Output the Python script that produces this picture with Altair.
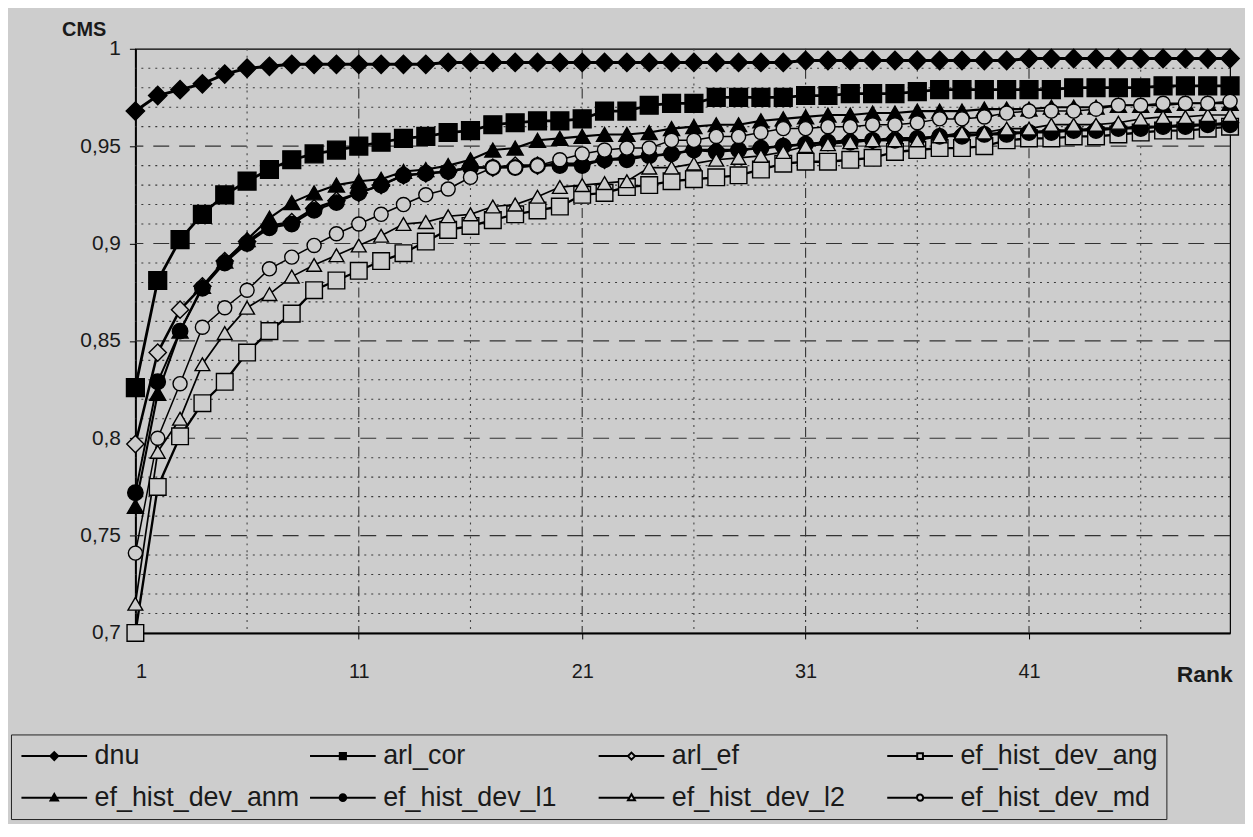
import altair as alt
import pandas as pd

BG = "#cdcdcd"
INK = "#1a1a1a"
FONT = "Liberation Sans"

ranks = list(range(1, 51))

dnu = [0.968, 0.976, 0.979, 0.982, 0.987, 0.990, 0.991, 0.992, 0.992, 0.992,
       0.992, 0.992, 0.992, 0.992, 0.993, 0.993, 0.993, 0.993, 0.993, 0.993,
       0.993, 0.993, 0.993, 0.993, 0.993, 0.993, 0.993, 0.993, 0.993, 0.993,
       0.994, 0.994, 0.994, 0.994, 0.994, 0.994, 0.994, 0.994, 0.994, 0.994,
       0.995, 0.995, 0.995, 0.995, 0.995, 0.995, 0.995, 0.995, 0.995, 0.995]

arl_cor = [0.826, 0.881, 0.902, 0.915, 0.925, 0.932, 0.938, 0.943, 0.946, 0.948,
           0.950, 0.952, 0.954, 0.955, 0.957, 0.958, 0.961, 0.962, 0.963, 0.963,
           0.964, 0.968, 0.968, 0.971, 0.972, 0.972, 0.975, 0.975, 0.975, 0.975,
           0.976, 0.976, 0.977, 0.977, 0.977, 0.978, 0.979, 0.979, 0.979, 0.979,
           0.979, 0.979, 0.980, 0.980, 0.980, 0.980, 0.981, 0.981, 0.981, 0.981]

arl_ef = [0.797, 0.844, 0.866, 0.878, 0.891, 0.901, 0.909, 0.911, 0.918, 0.922,
          0.926, 0.930, 0.935, 0.936, 0.937, 0.939, 0.939, 0.940, 0.940, 0.941,
          0.941, 0.943, 0.944, 0.945, 0.946, 0.948, 0.948, 0.948, 0.949, 0.950,
          0.951, 0.952, 0.953, 0.953, 0.954, 0.954, 0.955, 0.956, 0.956, 0.957,
          0.957, 0.958, 0.958, 0.959, 0.959, 0.960, 0.960, 0.961, 0.961, 0.962]

ef_hist_dev_ang = [0.700, 0.775, 0.801, 0.818, 0.829, 0.844, 0.855, 0.864, 0.876, 0.881,
                   0.886, 0.891, 0.895, 0.901, 0.907, 0.909, 0.912, 0.915, 0.917, 0.919,
                   0.925, 0.926, 0.929, 0.930, 0.932, 0.933, 0.934, 0.935, 0.938, 0.941,
                   0.942, 0.942, 0.943, 0.944, 0.947, 0.948, 0.949, 0.949, 0.950, 0.953,
                   0.954, 0.954, 0.955, 0.955, 0.956, 0.957, 0.958, 0.958, 0.959, 0.960]

ef_hist_dev_anm = [0.765, 0.823, 0.855, 0.878, 0.891, 0.902, 0.913, 0.921, 0.926, 0.930,
                   0.932, 0.933, 0.937, 0.938, 0.940, 0.943, 0.948, 0.949, 0.953, 0.954,
                   0.955, 0.956, 0.956, 0.957, 0.959, 0.960, 0.961, 0.961, 0.963, 0.964,
                   0.965, 0.966, 0.966, 0.967, 0.967, 0.968, 0.968, 0.968, 0.969, 0.969,
                   0.969, 0.970, 0.970, 0.970, 0.971, 0.971, 0.971, 0.972, 0.972, 0.972]

ef_hist_dev_l1 = [0.772, 0.829, 0.855, 0.877, 0.890, 0.900, 0.908, 0.910, 0.917, 0.921,
                  0.926, 0.930, 0.935, 0.936, 0.937, 0.939, 0.939, 0.939, 0.940, 0.940,
                  0.940, 0.943, 0.943, 0.945, 0.946, 0.948, 0.947, 0.948, 0.949, 0.950,
                  0.951, 0.952, 0.952, 0.953, 0.953, 0.954, 0.955, 0.955, 0.956, 0.956,
                  0.957, 0.957, 0.958, 0.958, 0.959, 0.959, 0.960, 0.960, 0.961, 0.961]

ef_hist_dev_l2 = [0.715, 0.793, 0.810, 0.838, 0.854, 0.867, 0.874, 0.883, 0.889, 0.894,
                  0.899, 0.904, 0.910, 0.911, 0.914, 0.915, 0.919, 0.920, 0.924, 0.929,
                  0.930, 0.931, 0.932, 0.939, 0.939, 0.941, 0.943, 0.944, 0.945, 0.947,
                  0.950, 0.951, 0.952, 0.953, 0.953, 0.953, 0.955, 0.957, 0.957, 0.959,
                  0.959, 0.961, 0.961, 0.961, 0.962, 0.964, 0.965, 0.965, 0.966, 0.966]

ef_hist_dev_md = [0.741, 0.800, 0.828, 0.857, 0.867, 0.876, 0.887, 0.893, 0.899, 0.905,
                  0.910, 0.915, 0.920, 0.925, 0.928, 0.934, 0.939, 0.939, 0.940, 0.943,
                  0.946, 0.948, 0.949, 0.949, 0.953, 0.953, 0.955, 0.955, 0.957, 0.959,
                  0.959, 0.960, 0.960, 0.961, 0.961, 0.962, 0.964, 0.964, 0.965, 0.967,
                  0.968, 0.968, 0.968, 0.969, 0.971, 0.971, 0.972, 0.972, 0.972, 0.973]

series_names = ["dnu", "arl_cor", "arl_ef", "ef_hist_dev_ang",
                "ef_hist_dev_anm", "ef_hist_dev_l1", "ef_hist_dev_l2", "ef_hist_dev_md"]
series_values = [dnu, arl_cor, arl_ef, ef_hist_dev_ang,
                 ef_hist_dev_anm, ef_hist_dev_l1, ef_hist_dev_l2, ef_hist_dev_md]

# marker styles
marker_shapes = ["diamond", "square", "diamond", "square",
                 "triangle-up", "circle", "triangle-up", "circle"]
marker_fills = ["black", "black", BG, BG, "black", "black", BG, BG]
marker_sizes = [340, 200, 130, 190, 170, 210, 150, 300]
line_widths = [3.0, 1.5, 1.5, 1.5, 1.5, 1.5, 1.5, 1.5]

# legend symbols: line segment with marker in the middle (unit coords)
legend_paths = [
    "M-1,0H1.64M2.36,0H5M2,-0.36L2.36,0L2,0.36L1.64,0Z",
    "M-1,0H1.72M2.28,0H5M1.72,-0.28H2.28V0.28H1.72Z",
    "M-1,0H1.68M2.32,0H5M2,-0.32L2.32,0L2,0.32L1.68,0Z",
    "M-1,0H1.74M2.26,0H5M1.74,-0.26H2.26V0.26H1.74Z",
    "M-1,0H1.8M2.2,0H5M2,-0.34L2.34,0.26L1.66,0.26Z",
    "M-1,0H1.7M2.3,0H5M1.7,0A0.3,0.3 0 1,0 2.3,0A0.3,0.3 0 1,0 1.7,0Z",
    "M-1,0H1.8M2.2,0H5M2,-0.32L2.32,0.24L1.68,0.24Z",
    "M-1,0H1.72M2.28,0H5M1.72,0A0.28,0.28 0 1,0 2.28,0A0.28,0.28 0 1,0 1.72,0Z",
]

y_major = [0.75, 0.8, 0.85, 0.9, 0.95]
y_minor = [0.71, 0.72, 0.73, 0.74, 0.76, 0.77, 0.78, 0.79, 0.81, 0.82, 0.83, 0.84,
           0.86, 0.87, 0.88, 0.89, 0.91, 0.92, 0.93, 0.94, 0.96, 0.97, 0.98, 0.99]
x_major = [11, 21, 31, 41]
x_minor = [6, 16, 26, 36, 46]
x_tick_values = [1, 11, 21, 31, 41]
y_tick_values = [0.7, 0.75, 0.8, 0.85, 0.9, 0.95, 1.0]

rows = []
for name, vals in zip(series_names, series_values):
    for r, v in zip(ranks, vals):
        rows.append({"series": name, "rank": r, "cms": v})
df = pd.DataFrame(rows)

xscale = alt.Scale(domain=[1, 50], nice=False, zero=False)
yscale = alt.Scale(domain=[0.7, 1.0], nice=False, zero=False)

xaxis = alt.Axis(
    values=x_tick_values, title="Rank", grid=False,
    labelFont=FONT, labelFontSize=20, labelColor=INK, labelPadding=23,
    tickColor="black", tickSize=6, domainColor="black", domainWidth=2,
    titleFont=FONT, titleFontSize=23, titleFontWeight="bold", titleColor=INK,
    titleX=1074, titleY=42, titleAlign="center", titleBaseline="middle")
yaxis = alt.Axis(
    values=y_tick_values, title="CMS", grid=False,
    labelExpr="replace(format(datum.value, '.2~f'), '.', ',')",
    labelFont=FONT, labelFontSize=21, labelColor=INK, labelPadding=9,
    tickColor="black", tickSize=6, domainColor="black", domainWidth=2,
    titleFont=FONT, titleFontSize=20, titleFontWeight="bold", titleColor=INK,
    titleAngle=0, titleX=-52, titleY=-19, titleAlign="center", titleBaseline="middle")

def xe():
    return alt.X("rank:Q", scale=xscale, axis=xaxis)

def ye():
    return alt.Y("cms:Q", scale=yscale, axis=yaxis)

grid_h_minor = alt.Chart(pd.DataFrame({"cms": y_minor})).mark_rule(
    color="#3a3a3a", strokeWidth=1.1, strokeDash=[2, 5]).encode(y=ye())
grid_h_major = alt.Chart(pd.DataFrame({"cms": y_major})).mark_rule(
    color="#333333", strokeWidth=1.1, strokeDash=[16, 10]).encode(y=ye())
grid_v_minor = alt.Chart(pd.DataFrame({"rank": x_minor})).mark_rule(
    color="#444444", strokeWidth=1.1, strokeDash=[2, 5]).encode(x=xe())
grid_v_major = alt.Chart(pd.DataFrame({"rank": x_major})).mark_rule(
    color="#333333", strokeWidth=1.1, strokeDash=[10, 4, 2, 4]).encode(x=xe())

lines = alt.Chart(df).mark_line(color="black").encode(
    x=xe(), y=ye(),
    detail="series:N",
    strokeWidth=alt.StrokeWidth("series:N", scale=alt.Scale(domain=series_names, range=line_widths), legend=None),
)

points = alt.Chart(df).mark_point(filled=True, stroke="black", strokeWidth=1.4, opacity=1).encode(
    x=xe(), y=ye(),
    shape=alt.Shape("series:N", scale=alt.Scale(domain=series_names, range=marker_shapes), legend=None),
    fill=alt.Fill("series:N", scale=alt.Scale(domain=series_names, range=marker_fills), legend=None),
    size=alt.Size("series:N", scale=alt.Scale(domain=series_names, range=marker_sizes), legend=None),
)

legend_def = alt.Legend(
    title=None, orient="none", legendX=-125, legendY=689,
    direction="horizontal", columns=4, gridAlign="all",
    columnPadding=6, rowPadding=14, padding=8,
    labelFont=FONT, labelFontSize=27, labelColor=INK, labelLimit=500, labelOffset=49,
    symbolSize=484, symbolStrokeWidth=2, symbolStrokeColor="black", symbolOpacity=1,
    strokeColor="#222222",
)

legend_layer = alt.Chart(df).transform_filter("false").mark_point(filled=True, size=484).encode(
    shape=alt.Shape("series:N", scale=alt.Scale(domain=series_names, range=legend_paths), legend=legend_def),
    fill=alt.Fill("series:N", scale=alt.Scale(domain=series_names, range=marker_fills), legend=legend_def),
    stroke=alt.Stroke("series:N", scale=alt.Scale(domain=series_names, range=["black"] * 8), legend=legend_def),
)

chart = alt.layer(
    grid_h_minor, grid_h_major, grid_v_minor, grid_v_major, lines, points, legend_layer
).resolve_scale(
    shape="independent", fill="independent", stroke="independent"
).properties(
    width=1100, height=587, background=BG,
    padding={"left": 2, "top": 10, "right": 2, "bottom": 2},
).configure_view(
    stroke="black", strokeWidth=1.2
)

chart.save("out.html", embed_options={"renderer": "svg", "actions": False})
